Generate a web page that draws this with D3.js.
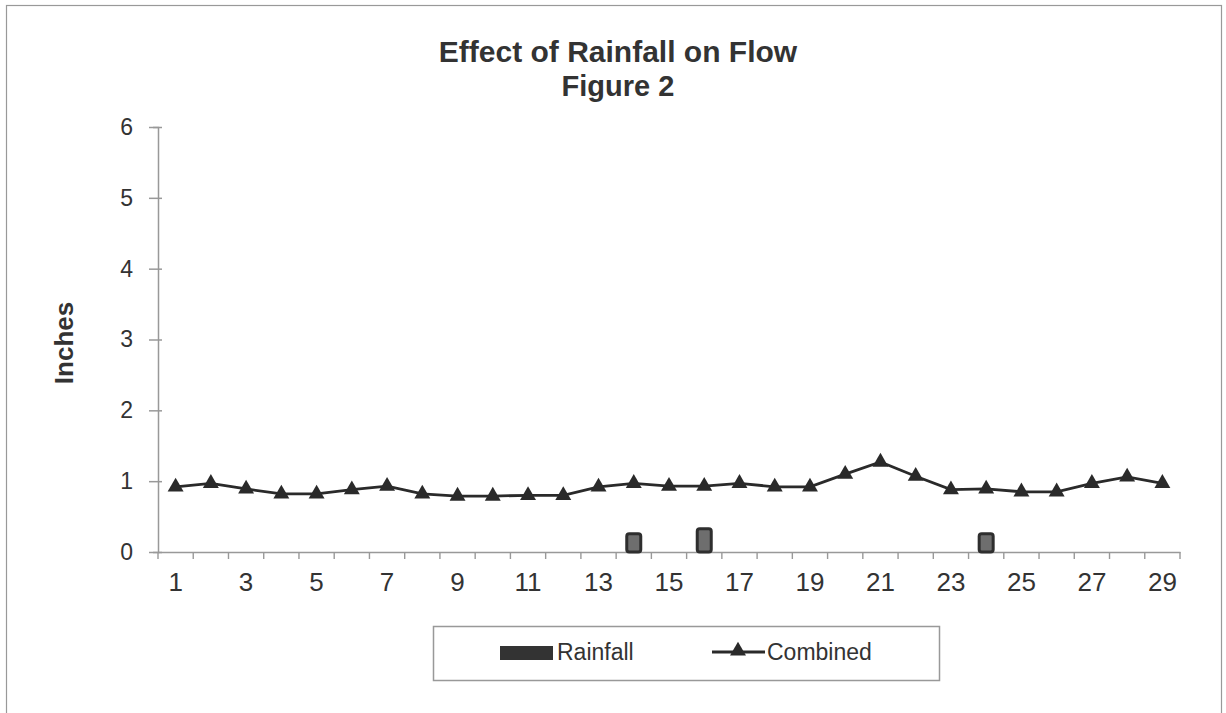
<!DOCTYPE html>
<html><head><meta charset="utf-8">
<script src="https://cdn.jsdelivr.net/npm/d3@7"></script>
<style>body{margin:0;background:#fff}svg{display:block;font-family:"Liberation Sans",Arial,sans-serif}</style>
</head><body>
<svg id="c" width="1226" height="713"></svg>
<script>
const days = d3.range(1, 30).map(String);
const combined = [0.92,0.97,0.89,0.82,0.82,0.88,0.93,0.82,0.79,0.79,0.80,0.80,0.92,0.97,0.93,0.93,0.97,0.92,0.92,1.10,1.27,1.07,0.88,0.89,0.85,0.85,0.97,1.06,0.97];
const rainfall = [0,0,0,0,0,0,0,0,0,0,0,0,0,0.28,0,0.35,0,0,0,0,0,0,0,0.28,0,0,0,0,0];
const yTicks = [0,1,2,3,4,5,6];
const xTickLabels = days.filter((d,i)=>i%2===0);

const svg = d3.select("#c");
svg.append("rect").attr("x",6.5).attr("y",5.5).attr("width",1215).attr("height",720)
  .attr("fill","none").attr("stroke","#999").attr("stroke-width",1.2);

const L=158, R=1180, T=127, B=552;
const x = d3.scaleBand().domain(days).range([L,R]).padding(0);
const y = d3.scaleLinear().domain([0,6]).range([B,T]);

svg.append("text").attr("x",618).attr("y",62).attr("text-anchor","middle")
  .attr("font-size",30).attr("font-weight","bold").attr("fill","#333").text("Effect of Rainfall on Flow");
svg.append("text").attr("x",618).attr("y",96).attr("text-anchor","middle")
  .attr("font-size",29).attr("font-weight","bold").attr("fill","#333").text("Figure 2");
svg.append("text").attr("transform","translate(73,343) rotate(-90)").attr("text-anchor","middle")
  .attr("font-size",26).attr("font-weight","bold").attr("fill","#333").text("Inches");

// y axis
const ya = svg.append("g").attr("transform",`translate(${L},0)`)
  .call(d3.axisLeft(y).tickValues(yTicks).tickSize(5).tickPadding(20).tickFormat(d3.format("d")));
ya.select(".domain").attr("stroke","#999").attr("stroke-width",1.5);
ya.selectAll(".tick line").attr("stroke","#999").attr("stroke-width",1.5).attr("x2",-9).attr("x1",4);
ya.selectAll("text").attr("font-size",23).attr("fill","#333").attr("font-family","Liberation Sans, Arial, sans-serif");

// x axis
const xa = svg.append("g").attr("transform",`translate(0,${B})`)
  .call(d3.axisBottom(x).tickValues(xTickLabels).tickSize(0).tickPadding(21));
xa.select(".domain").attr("stroke","#999").attr("stroke-width",1.5);
xa.selectAll("text").attr("font-size",26).attr("fill","#333").attr("font-family","Liberation Sans, Arial, sans-serif");
// boundary ticks between categories
svg.append("g").selectAll("line").data(days.concat(["end"])).join("line")
  .attr("x1",(d,i)=>L+i*x.step()).attr("x2",(d,i)=>L+i*x.step())
  .attr("y1",B).attr("y2",B+7).attr("stroke","#999").attr("stroke-width",1.4);

// bars
const bw = 17;
svg.append("g").selectAll("rect").data(days.map((d,i)=>({d,v:rainfall[i]})).filter(o=>o.v>0)).join("rect")
  .attr("x",o=>x(o.d)+x.bandwidth()/2-bw/2+1.5).attr("y",o=>y(o.v)+1.5)
  .attr("width",bw-3).attr("height",o=>y(0)-y(o.v)-1.5).attr("rx",2.5)
  .attr("fill","#6e6e6e").attr("stroke","#2e2e2e").attr("stroke-width",3);

// line
const line = d3.line().x((v,i)=>x(days[i])+x.bandwidth()/2).y(v=>y(v));
svg.append("path").datum(combined).attr("d",line).attr("fill","none")
  .attr("stroke","#2a2a2a").attr("stroke-width",2.8);
const tri = d3.symbol().type(d3.symbolTriangle).size(110);
svg.append("g").selectAll("path").data(combined).join("path")
  .attr("transform",(v,i)=>`translate(${x(days[i])+x.bandwidth()/2},${y(v)})`)
  .attr("d",tri).attr("fill","#2a2a2a");

// legend
svg.append("rect").attr("x",433.5).attr("y",626.5).attr("width",506).attr("height",54)
  .attr("fill","#fff").attr("stroke","#999").attr("stroke-width",1.5);
svg.append("rect").attr("x",500).attr("y",646).attr("width",53).attr("height",14).attr("fill","#333");
svg.append("text").attr("x",557).attr("y",660).attr("font-size",23).attr("fill","#333").text("Rainfall");
svg.append("line").attr("x1",712).attr("x2",765).attr("y1",652).attr("y2",652).attr("stroke","#2a2a2a").attr("stroke-width",2.8);
svg.append("path").attr("transform","translate(738,651)").attr("d",tri).attr("fill","#2a2a2a");
svg.append("text").attr("x",767).attr("y",660).attr("font-size",23).attr("fill","#333").text("Combined");
</script>
</body></html>
